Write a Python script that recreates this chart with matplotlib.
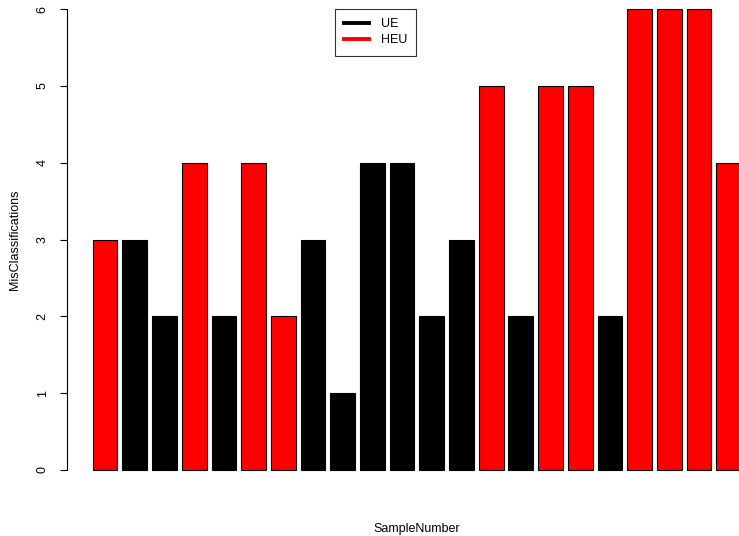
import matplotlib
matplotlib.use("Agg")
import matplotlib.pyplot as plt
from matplotlib.lines import Line2D

plt.rcParams['font.family'] = ['Liberation Sans', 'DejaVu Sans']

# misclassifications per sample, group per sample
values = [3, 3, 2, 4, 2, 4, 2, 3, 1, 4, 4, 2, 3, 5, 2, 5, 5, 2, 6, 6, 6, 4]
groups = ['HEU', 'UE', 'UE', 'HEU', 'UE', 'HEU', 'HEU', 'UE', 'UE', 'UE', 'UE',
          'UE', 'UE', 'HEU', 'UE', 'HEU', 'HEU', 'UE', 'HEU', 'HEU', 'HEU', 'HEU']
group_colors = {'UE': 'black', 'HEU': 'red'}
y_ticks = [0, 1, 2, 3, 4, 5, 6]

W, H = 739, 536
fig = plt.figure(figsize=(W / 100, H / 100), dpi=100)

# R-style plot region (extends past the right edge of the device)
left_px, right_px = 66.8, 767.0
top_px, bottom_px = -9.4, 488.4
ax = fig.add_axes([left_px / W, 1 - bottom_px / H,
                   (right_px - left_px) / W, (bottom_px - top_px) / H])

# barplot layout: width 1, space 0.2
n = len(values)
lefts = [0.2 + 1.2 * i for i in range(n)]
cols = [group_colors[g] for g in groups]
ax.bar(lefts, values, width=1.0, align='edge', color=cols,
       edgecolor='black', linewidth=0.8)

xmin, xmax = 0.2, 0.2 + 1.2 * (n - 1) + 1.0
ext = 0.04 * (xmax - xmin)
ax.set_xlim(xmin - ext, xmax + ext)
ax.set_ylim(-0.24, 6.24)

for s in ['top', 'right', 'bottom']:
    ax.spines[s].set_visible(False)
ax.spines['left'].set_bounds(0, 6)
ax.spines['left'].set_linewidth(0.8)
ax.set_xticks([])
ax.set_yticks(y_ticks)
ax.set_yticklabels([str(t) for t in y_ticks], rotation=90, va='center',
                   fontsize=9)
ax.tick_params(axis='y', length=5, width=0.8, pad=8)

fig.text(417 / W, 1 - 529 / H, 'SampleNumber', ha='center', va='center',
         fontsize=9)
fig.text(15 / W, 1 - 240 / H, 'MisClassifications', ha='center', va='center',
         rotation=90, fontsize=9)

handles = [Line2D([0], [0], color=group_colors[g], lw=2.8) for g in ['UE', 'HEU']]
leg = fig.legend(handles, ['UE', 'HEU'], loc='upper left',
                 bbox_to_anchor=(335 / W, 1 - 9 / H), fontsize=9,
                 frameon=True, fancybox=False, edgecolor='black',
                 handlelength=2.0, handletextpad=0.9, borderpad=0.75,
                 labelspacing=0.3, borderaxespad=0)
leg.get_frame().set_linewidth(0.8)

fig.savefig('out.png', dpi=100)
